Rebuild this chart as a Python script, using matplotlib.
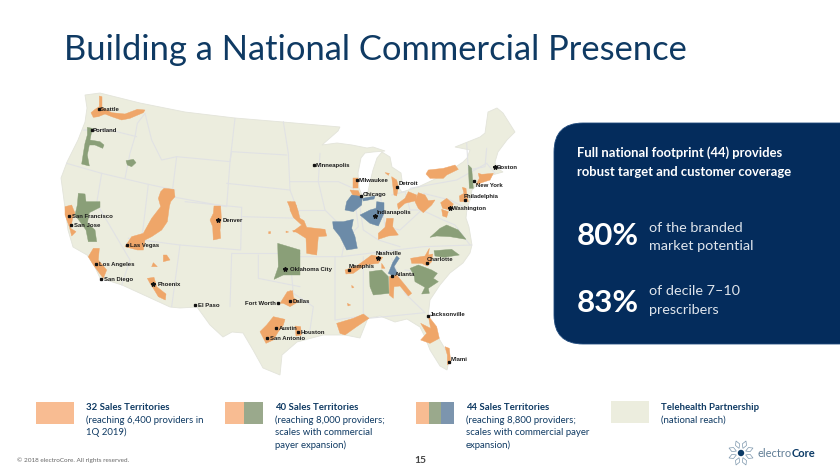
import matplotlib
matplotlib.use('Agg')
import matplotlib.pyplot as plt
from matplotlib.patches import Polygon, FancyBboxPatch, Rectangle, Circle
import numpy as np

# colours
LAND = '#ecedde'
BORDER = '#e1e2e4'
ORANGE = '#efa669'
GREEN = '#8a9f78'
BLUE = '#6c8ba8'
NAVY = '#042c5c'
TEXT = '#0f3a63'


# crops of the slide were read at 3x, so convert back to slide pixels
def west(pts):
    return [(50 + x / 3, 90 + y / 3) for x, y in pts]


def east(pts):
    return [(290 + x / 3, 130 + y / 3) for x, y in pts]


# OUTLINE (slide pixels)
outline = [
    (85, 95), (100, 93), (140, 103), (185, 112), (235, 118), (283, 122), (340, 127), (338, 131),
    (322, 145), (337, 143), (352, 145), (367, 148), (373, 147), (385, 151), (373, 152), (365, 153),
    (361, 158), (358, 173), (359, 188), (362, 195), (368, 192), (370, 182), (373, 170), (377, 158),
    (382, 152), (390, 157), (392, 167), (401, 173), (402, 180), (398, 187), (402, 192), (418, 187),
    (433, 180), (447, 173), (457, 166), (463, 162), (467, 158), (470, 150), (455, 147), (480, 137),
    (485, 133), (488, 112), (497, 108), (503, 113), (515, 132), (507, 140), (498, 152), (495, 162),
    (497, 168), (503, 172), (492, 175), (477, 185), (472, 190), (470, 200), (467, 209), (466, 218),
    (469, 227), (472, 245), (470, 253), (463, 263), (450, 273), (440, 285), (430, 300), (428, 317),
    (438, 337), (450, 357), (447, 370), (440, 366), (430, 350), (425, 337), (420, 327), (407, 319),
    (395, 322), (380, 316), (368, 318), (364, 328), (360, 338), (345, 335), (323, 335), (297, 342),
    (282, 355), (280, 375), (263, 368), (253, 350), (243, 333), (232, 332), (223, 337), (210, 325),
    (197, 307), (180, 308), (170, 307), (122, 285), (100, 278), (94, 265), (87, 255), (73, 247),
    (68, 230), (61, 178), (67, 162), (78, 140), (85, 122), (87, 108),
]

borders = [
    west([(100, 120), (180, 120), (260, 140)]),
    west([(285, 70), (262, 100), (255, 140), (240, 190), (225, 265)]),
    west([(50, 220), (155, 250), (295, 283), (375, 300)]),
    west([(155, 250), (140, 340), (240, 510), (215, 585)]),
    west([(295, 283), (275, 450), (235, 445), (390, 465), (365, 650)]),
    west([(285, 70), (305, 150), (335, 210), (380, 200), (540, 215), (555, 85)]),
    west([(380, 200), (365, 320), (530, 350), (540, 215), (545, 185), (710, 195)]),
    west([(530, 280), (720, 300), (750, 380)]),
    west([(405, 335), (575, 352), (572, 480), (390, 465)]),
    west([(578, 380), (750, 385)]),
    west([(545, 490), (750, 490)]),
    west([(545, 490), (540, 650)]),
    west([(625, 495), (625, 565), (750, 590)]),
    west([(700, 95), (715, 190), (720, 300)]),
    east([(0, 155), (145, 155), (190, 175)]),
    east([(90, 70), (85, 155), (105, 240), (145, 280), (165, 330), (155, 380)]),
    east([(0, 240), (105, 240)]),
    east([(0, 380), (155, 380), (400, 350), (545, 345)]),
    east([(0, 380), (10, 490), (70, 530), (60, 600)]),
    east([(135, 380), (135, 570), (205, 560)]),
    east([(220, 380), (220, 550), (235, 565), (405, 548)]),
    east([(305, 385), (345, 490), (405, 548)]),
    east([(345, 420), (440, 430)]),
    east([(190, 175), (205, 290), (165, 330)]),
    east([(205, 200), (220, 300), (265, 330), (330, 350)]),
    east([(270, 190), (285, 290), (330, 300), (395, 240)]),
    east([(305, 195), (345, 185), (360, 240), (395, 240), (460, 270), (495, 285), (540, 345)]),
    east([(360, 175), (500, 150), (590, 100)]),
    east([(530, 40), (535, 120), (585, 110), (590, 55)]),
    east([(400, 190), (480, 210), (520, 230)]),
    east([(590, 100), (615, 130)]),
]

# SALES TERRITORIES
orange_areas = [
    west([(148, 18), (156, 20), (156, 52), (185, 68), (225, 72), (262, 58), (285, 60), (280, 68), (240, 85), (215, 90), (185, 80), (165, 72), (145, 80), (130, 82), (123, 68), (135, 58), (148, 50)]),
    west([(342, 295), (372, 298), (375, 320), (362, 335), (358, 350), (352, 395), (335, 420), (305, 440), (285, 450), (280, 480), (262, 480), (225, 470), (245, 440), (280, 430), (305, 385), (332, 350), (325, 325), (332, 305)]),
    west([(492, 348), (512, 348), (514, 385), (510, 420), (512, 445), (490, 450), (488, 410), (480, 390), (490, 370)]),
    west([(45, 350), (65, 345), (75, 370), (68, 385), (62, 415), (78, 425), (65, 438), (58, 410), (45, 375)]),
    west([(130, 475), (148, 475), (145, 510), (170, 540), (160, 565), (145, 545), (130, 525), (115, 500)]),
    west([(340, 495), (350, 495), (360, 510), (340, 515)]),
    west([(310, 518), (322, 530), (305, 530)]),
    west([(292, 565), (312, 562), (320, 590), (348, 612), (346, 630), (325, 620), (310, 595), (300, 580)]),
    west([(712, 605), (728, 602), (730, 622), (745, 635), (720, 650), (700, 640), (690, 640)]),
    west([(670, 680), (705, 688), (700, 705), (685, 725), (670, 750), (648, 760), (630, 725), (650, 705)]),
    west([(712, 335), (735, 335), (745, 365), (750, 388), (735, 385), (725, 365)]),
    west([(656, 425), (662, 425), (661, 431), (656, 431)]),
    west([(708, 423), (716, 426), (708, 428)]),
    west([(728, 422), (750, 418), (750, 426), (730, 426)]),
    east([(0, 215), (18, 225), (25, 262), (42, 272), (50, 292), (105, 298), (110, 318), (85, 320), (80, 375), (50, 370), (48, 325), (12, 302), (35, 285), (10, 262), (0, 240)]),
    east([(190, 145), (205, 145), (205, 175), (190, 175)]),
    east([(180, 180), (205, 182), (212, 200), (190, 198)]),
    east([(285, 128), (298, 130), (295, 136)]),
    east([(305, 140), (320, 150), (325, 170), (320, 198), (312, 195)]),
    east([(415, 120), (460, 115), (495, 105), (505, 118), (470, 135), (460, 145), (420, 145), (408, 132)]),
    east([(355, 185), (380, 195), (378, 212), (345, 220), (325, 238), (322, 222), (345, 205)]),
    east([(385, 188), (405, 195), (415, 212), (435, 210), (425, 225), (400, 248), (385, 235), (375, 215)]),
    east([(290, 265), (310, 265), (308, 290), (325, 315), (295, 318), (265, 328), (265, 310), (285, 292)]),
    east([(470, 205), (490, 222), (480, 240), (458, 235), (452, 218)]),
    east([(455, 238), (475, 245), (470, 262), (458, 258)]),
    east([(517, 172), (528, 175), (530, 190), (535, 215), (510, 215), (508, 198), (522, 190)]),
    east([(565, 130), (575, 133), (610, 130), (600, 150), (575, 158), (558, 165), (568, 145)]),
    east([(165, 420), (200, 408), (225, 390), (245, 375), (278, 382), (265, 400), (225, 405), (190, 430), (168, 432)]),
    east([(275, 400), (285, 415), (275, 415)]),
    east([(362, 385), (405, 378), (418, 355), (415, 375), (428, 372), (425, 395), (412, 408), (395, 400), (365, 400)]),
    east([(298, 440), (320, 435), (345, 465), (365, 490), (355, 498), (330, 468), (312, 470), (310, 505), (298, 495)]),
    east([(140, 580), (190, 565), (220, 552), (237, 565), (200, 590), (165, 615), (150, 610)]),
    east([(415, 558), (440, 590), (448, 625), (420, 640), (392, 630), (410, 610), (392, 580), (422, 595)]),
    east([(465, 650), (478, 655), (482, 695), (472, 705), (472, 675)]),
    east([(15, 588), (32, 590), (34, 615), (18, 618)]),
    east([(0, 480), (8, 500), (5, 525), (0, 525)]),
    east([(185, 466), (192, 472), (186, 474)]),
    east([(172, 520), (182, 525), (174, 528)]),
]

green_areas = [
    west([(112, 112), (127, 115), (120, 150), (150, 155), (162, 165), (158, 175), (135, 165), (118, 165), (112, 195), (118, 228), (95, 222), (100, 190), (105, 160), (112, 135)]),
    west([(228, 212), (250, 208), (258, 218), (245, 230), (232, 225)]),
    west([(85, 310), (105, 312), (108, 335), (150, 335), (150, 352), (118, 368), (112, 400), (135, 420), (140, 455), (115, 455), (108, 420), (90, 395), (75, 375), (82, 345)]),
    west([(683, 460), (750, 480), (750, 555), (700, 555), (672, 568), (685, 530)]),
    east([(238, 425), (275, 420), (295, 440), (297, 490), (250, 495), (240, 470)]),
    east([(360, 415), (385, 405), (425, 420), (442, 430), (430, 445), (445, 455), (415, 475), (418, 490), (395, 492), (405, 472), (375, 455), (372, 435)]),
    east([(420, 322), (450, 295), (470, 285), (505, 300), (528, 328), (480, 320), (440, 318)]),
    east([(432, 362), (485, 358), (508, 375), (462, 382), (435, 378)]),
    east([(535, 105), (545, 115), (550, 175), (538, 175)]),
]

blue_areas = [
    east([(185, 195), (217, 200), (215, 225), (190, 245), (165, 240), (170, 215)]),
    east([(218, 205), (255, 198), (252, 207), (220, 213)]),
    east([(260, 215), (282, 218), (282, 250), (265, 288), (240, 280), (210, 255), (240, 240), (258, 235)]),
    east([(128, 275), (160, 275), (190, 268), (185, 295), (195, 320), (202, 355), (170, 360), (150, 320), (130, 295)]),
    east([(320, 378), (328, 385), (312, 410), (322, 430), (310, 438), (295, 430), (308, 398)]),
]

# CITY LABELS: name, marker x, marker y, text x, text y, marker
cities = [
    ['Seattle', 99, 109, 100, 109, 's'],
    ['Portland', 92, 130, 93, 130, 's'],
    ['San Francisco', 69, 216, 72, 216, 's'],
    ['San Jose', 71, 225, 74, 225, 's'],
    ['Las Vegas', 127, 245, 130, 245, 's'],
    ['Los Angeles', 96, 264, 99, 264, 's'],
    ['San Diego', 101, 279, 104, 279, 's'],
    ['Denver', 218, 220, 223, 220, '*'],
    ['Phoenix', 153, 284, 158, 284, '*'],
    ['El Paso', 195, 305, 198, 305, 's'],
    ['Oklahoma City', 285, 269, 290, 269, '*'],
    ['Dallas', 290, 301, 293, 301, 's'],
    ['Austin', 276, 328, 279, 328, 's'],
    ['San Antonio', 267, 338, 270, 338, 's'],
    ['Houston', 298, 332, 301, 332, 's'],
    ['Minneapolis', 314, 165, 316, 165, 's'],
    ['Milwaukee', 357, 180, 359, 180, 's'],
    ['Chicago', 361, 196, 363, 194, 's'],
    ['Detroit', 397, 187, 399, 183, 's'],
    ['Indianapolis', 375, 216, 377, 212, '*'],
    ['Nashville', 378, 258, 376, 253, '*'],
    ['Memphis', 349, 270, 349, 266, 's'],
    ['Atlanta', 392, 276, 395, 274, 's'],
    ['Charlotte', 427, 263, 427, 259, 's'],
    ['Jacksonville', 428, 316, 430, 314, 's'],
    ['Miami', 449, 362, 451, 359, 's'],
    ['Washington', 450, 208, 452, 208, '*'],
    ['Philadelphia', 465, 200, 464, 196, 's'],
    ['New York', 474, 181, 476, 185, 's'],
    ['Boston', 495, 167, 497, 167, '*'],
]

# LEGEND: text x, swatch x, colours, heading, body
legend = [
    [86, 36, [ORANGE], '32 Sales Territories', '(reaching 6,400 providers in\n1Q 2019)'],
    [275, 225, [ORANGE, GREEN], '40 Sales Territories', '(reaching 8,000 providers;\nscales with commercial\npayer expansion)'],
    [466, 416, [ORANGE, GREEN, BLUE], '44 Sales Territories', '(reaching 8,800 providers;\nscales with commercial payer\nexpansion)'],
    [661, 611, [LAND], 'Telehealth Partnership', '(national reach)'],
]

fig = plt.figure(figsize=(8.4, 4.73), dpi=100)
ax = fig.add_axes([0, 0, 1, 1])
ax.set_xlim(0, 840)
ax.set_ylim(473, 0)
ax.axis('off')

plt.rcParams['font.family'] = ['Lato', 'DejaVu Sans']

ax.text(64, 50, 'Building a National Commercial Presence', fontsize=24.8, color=TEXT,
        family='Lato', va='center', ha='left')

# MAP
ax.add_patch(Polygon(outline, closed=True, fc=LAND, ec='#e3e4da', lw=0.6, zorder=1))
for line in borders:
    xs, ys = zip(*line)
    ax.plot(xs, ys, color=BORDER, lw=0.8, zorder=2, solid_capstyle='round')
for areas, colour in ((orange_areas, ORANGE), (green_areas, GREEN), (blue_areas, BLUE)):
    for area in areas:
        ax.add_patch(Polygon(area, closed=True, fc=colour, ec=colour, lw=0.3, zorder=3))

for name, mx, my, tx, ty, marker in cities:
    ax.plot(mx, my, marker=marker, ms=3.2 if marker == '*' else 1.4, color='#111111', zorder=4)
    ax.text(tx, ty, name, fontsize=4.3, fontweight='bold', family='Liberation Sans', color='#1c1c1c',
            va='center', ha='left', zorder=5)
ax.text(276, 303, 'Fort Worth', fontsize=4.3, fontweight='bold', family='Liberation Sans', color='#1c1c1c',
        va='center', ha='right', zorder=5)
ax.plot(278, 303, marker='s', ms=1.4, color='#111111', zorder=4)

# PANEL
panel = FancyBboxPatch((554, 123), 330, 221, boxstyle='round,pad=0,rounding_size=29', fc=NAVY, ec='#1f4a7d', lw=0.6,
                       zorder=1, clip_on=True)
ax.add_patch(panel)
ax.text(577, 153, 'Full national footprint (44) provides', fontsize=9.4, fontweight='bold', color='white',
        family='Lato', va='center')
ax.text(577, 172, 'robust target and customer coverage', fontsize=9.4, fontweight='bold', color='white',
        family='Lato', va='center')
ax.text(577, 236, '80%', fontsize=22.5, fontweight='bold', color='white', family='Lato', va='center')
ax.text(649, 228, 'of the branded', fontsize=10.4, color='#dfe5ec', family='Lato', va='center')
ax.text(649, 246, 'market potential', fontsize=10.4, color='#dfe5ec', family='Lato', va='center')
ax.text(577, 303, '83%', fontsize=22.5, fontweight='bold', color='white', family='Lato', va='center')
ax.text(649, 291, 'of decile 7\u201310', fontsize=10.4, color='#dfe5ec', family='Lato', va='center')
ax.text(649, 310, 'prescribers', fontsize=10.4, color='#dfe5ec', family='Lato', va='center')

# LEGEND
pale = {ORANGE: '#f8bc92', GREEN: '#9aa98c', BLUE: '#7c95ae', LAND: LAND}
for tx, sx, colours, heading, body in legend:
    w = 38 / len(colours)
    y0 = 401 if colours[0] == LAND else 402
    for i, c in enumerate(colours):
        ax.add_patch(Rectangle((sx + i * w, y0), w, 22, fc=pale[c], ec='none', zorder=1))
    ax.text(tx, 407, heading, fontsize=6.9, fontweight='bold', color=TEXT, family='Lato', va='center')
    for i, row in enumerate(body.split('\n')):
        ax.text(tx, 420 + i * 12.7, row, fontsize=6.9, color=TEXT, family='Lato', va='center')

# FOOTER
ax.text(17, 460, '\u00a9 2018 electroCore. All rights reserved.', fontsize=4.6, color='#666666',
        family='Lato', va='center')
ax.text(420, 460, '15', fontsize=7.4, fontweight='bold', color='#444444', family='Lato', va='center', ha='center')

# LOGO
cx, cy = 741, 453
ax.add_patch(Circle((cx, cy), 3.2, fc='#0b3a66', ec='none', zorder=2))
for a in np.arange(0, 360, 45) + 22.5:
    t = np.deg2rad(a)
    n = np.deg2rad(a + 90)
    tip = (cx + 13 * np.cos(t), cy + 13 * np.sin(t))
    base = (cx + 5 * np.cos(t), cy + 5 * np.sin(t))
    mid1 = (cx + 9 * np.cos(t) + 2.2 * np.cos(n), cy + 9 * np.sin(t) + 2.2 * np.sin(n))
    mid2 = (cx + 9 * np.cos(t) - 2.2 * np.cos(n), cy + 9 * np.sin(t) - 2.2 * np.sin(n))
    ax.add_patch(Polygon([base, mid1, tip, mid2], closed=True, fc='white', ec='#7d97ad', lw=0.5, zorder=2))
ax.text(757, 453, 'electro', fontsize=8, color='#5f7c95', family='Lato', va='center')
ax.text(792, 453, 'Core', fontsize=8, fontweight='bold', color='#0b3a66', family='Lato', va='center')

fig.savefig('out.png', dpi=100)
